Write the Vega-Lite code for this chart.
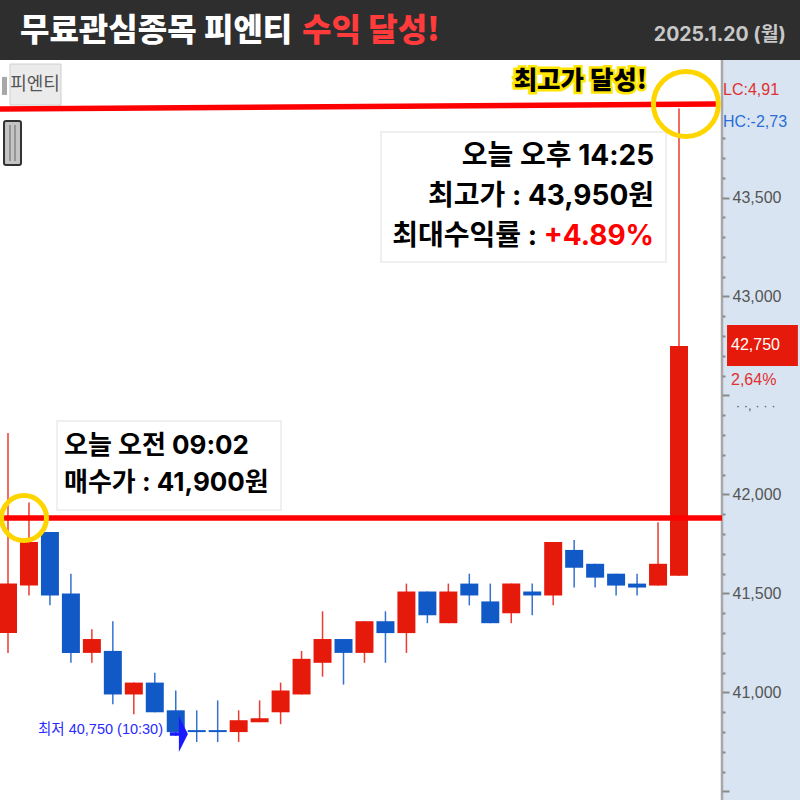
{"$schema":"https://vega.github.io/schema/vega-lite/v6.json","width":800,"height":800,"padding":0,"autosize":"none","background":"#ffffff","config":{"view":{"stroke":null},"axisX":{"disable":true}},"resolve":{"axis":{"y":"independent"}},
"datasets":{"candles":[
{"i":0,"dir":"up","open":41300,"high":42310,"low":41200,"close":41550},
{"i":1,"dir":"up","open":41540,"high":41960,"low":41490,"close":41760},
{"i":2,"dir":"down","open":41810,"high":41810,"low":41440,"close":41490},
{"i":3,"dir":"down","open":41500,"high":41600,"low":41150,"close":41200},
{"i":4,"dir":"up","open":41200,"high":41320,"low":41150,"close":41270},
{"i":5,"dir":"down","open":41210,"high":41360,"low":40940,"close":40990},
{"i":6,"dir":"up","open":40990,"high":41050,"low":40890,"close":41050},
{"i":7,"dir":"down","open":41050,"high":41100,"low":40900,"close":40900},
{"i":8,"dir":"down","open":40910,"high":41010,"low":40780,"close":40800},
{"i":9,"dir":"down","open":40810,"high":40910,"low":40750,"close":40800},
{"i":10,"dir":"down","open":40810,"high":40960,"low":40750,"close":40800},
{"i":11,"dir":"up","open":40800,"high":40910,"low":40750,"close":40860},
{"i":12,"dir":"up","open":40850,"high":40960,"low":40850,"close":40870},
{"i":13,"dir":"up","open":40900,"high":41050,"low":40840,"close":41010},
{"i":14,"dir":"up","open":40990,"high":41210,"low":40990,"close":41170},
{"i":15,"dir":"up","open":41150,"high":41410,"low":41080,"close":41270},
{"i":16,"dir":"down","open":41270,"high":41270,"low":41040,"close":41200},
{"i":17,"dir":"up","open":41200,"high":41360,"low":41150,"close":41360},
{"i":18,"dir":"down","open":41360,"high":41410,"low":41150,"close":41300},
{"i":19,"dir":"up","open":41300,"high":41550,"low":41200,"close":41510},
{"i":20,"dir":"down","open":41510,"high":41510,"low":41350,"close":41390},
{"i":21,"dir":"up","open":41350,"high":41550,"low":41350,"close":41510},
{"i":22,"dir":"down","open":41550,"high":41600,"low":41440,"close":41490},
{"i":23,"dir":"down","open":41460,"high":41550,"low":41350,"close":41350},
{"i":24,"dir":"up","open":41400,"high":41550,"low":41350,"close":41550},
{"i":25,"dir":"down","open":41510,"high":41550,"low":41390,"close":41490},
{"i":26,"dir":"up","open":41490,"high":41760,"low":41440,"close":41760},
{"i":27,"dir":"down","open":41720,"high":41770,"low":41530,"close":41630},
{"i":28,"dir":"down","open":41650,"high":41650,"low":41530,"close":41580},
{"i":29,"dir":"down","open":41600,"high":41600,"low":41490,"close":41540},
{"i":30,"dir":"down","open":41550,"high":41600,"low":41490,"close":41530},
{"i":31,"dir":"up","open":41540,"high":41860,"low":41540,"close":41650},
{"i":32,"dir":"up","open":41590,"high":43950,"low":41590,"close":42750}
]},
"layer":[
{"data":{"values":[{"a":1}]},"mark":{"type":"rect","color":"#d8e4f1"},"encoding":{"x":{"datum":34.05,"scale":{"domain":[-0.3815,37.77],"padding":0}},"x2":{"datum":37.77},"y":{"datum":44194,"scale":{"domain":[40457,44497.5]},"axis":{"orient":"right","offset":-78,"domain":false,"grid":false,"title":null,"zindex":1,"values":[40500,40600,40700,40800,40900,41000,41100,41200,41300,41400,41500,41600,41700,41800,41900,42000,42100,42200,42300,42400,42500,42600,42700,42800,42900,43000,43100,43200,43300,43400,43500,43600,43700,43800],"labelExpr":"datum.value % 500 == 0 && datum.value != 42500 && datum.value != 40500 ? format(datum.value, ',') : ''","labelOverlap":false,"labelBound":false,"labelFlush":false,"tickColor":"#8a8a8a","tickWidth":2,"tickSize":{"condition":{"test":"datum.value % 500 == 0","value":7},"value":3},"labelFont":"Liberation Sans","labelFontSize":16,"labelColor":"#555555","labelPadding":3}},"y2":{"datum":40457}}},
{"data":{"name":"candles"},"mark":{"type":"rule","strokeWidth":1.5,"opacity":0.85},"encoding":{"x":{"field":"i","type":"quantitative","scale":{"domain":[-0.3815,37.77],"padding":0}},"y":{"field":"low","type":"quantitative","scale":{"domain":[40457,44497.5]},"axis":null},"y2":{"field":"high"},"color":{"field":"dir","type":"nominal","scale":{"domain":["up","down"],"range":["#e61a0a","#1259c8"]},"legend":null}}},
{"data":{"name":"candles"},"mark":{"type":"bar","size":18,"orient":"vertical"},"encoding":{"x":{"field":"i","type":"quantitative","scale":{"domain":[-0.3815,37.77],"padding":0}},"y":{"field":"open","type":"quantitative","scale":{"domain":[40457,44497.5]},"axis":null},"y2":{"field":"close"},"color":{"field":"dir","type":"nominal","scale":{"domain":["up","down"],"range":["#e61a0a","#1259c8"]},"legend":null}}},
{"data":{"values":[{"a":1}]},"mark":{"type":"rule","color":"#a8a8a8","strokeWidth":2.5},"encoding":{"x":{"datum":34.05,"scale":{"domain":[-0.3815,37.77],"padding":0}},"y":{"datum":44194,"scale":{"domain":[40457,44497.5]},"axis":null},"y2":{"datum":40457}}},
{"data":{"values":[{"a":1}]},"mark":{"type":"rect","color":"#ffffff","stroke":"#efefef","strokeWidth":2},"encoding":{"x":{"datum":17.79,"scale":{"domain":[-0.3815,37.77],"padding":0}},"x2":{"datum":31.38},"y":{"datum":43831,"scale":{"domain":[40457,44497.5]},"axis":null},"y2":{"datum":43174}}},
{"data":{"values":[{"a":1}]},"mark":{"type":"rect","color":"#ffffff","stroke":"#efefef","strokeWidth":2},"encoding":{"x":{"datum":2.34,"scale":{"domain":[-0.3815,37.77],"padding":0}},"x2":{"datum":13.02},"y":{"datum":42371,"scale":{"domain":[40457,44497.5]},"axis":null},"y2":{"datum":41922}}},
{"data":{"values":[{"a":1}]},"mark":{"type":"rect","color":"#ebebeb","stroke":"#cfcfcf","strokeWidth":1},"encoding":{"x":{"datum":0.095,"scale":{"domain":[-0.3815,37.77],"padding":0}},"x2":{"datum":2.527},"y":{"datum":44174,"scale":{"domain":[40457,44497.5]},"axis":null},"y2":{"datum":43967}}},
{"data":{"values":[{"a":1}]},"mark":{"type":"rect","color":"#a8a8a8"},"encoding":{"x":{"datum":-0.286,"scale":{"domain":[-0.3815,37.77],"padding":0}},"x2":{"datum":-0.048},"y":{"datum":44109,"scale":{"domain":[40457,44497.5]},"axis":null},"y2":{"datum":44018}}},
{"data":{"values":[{"a":1}]},"mark":{"type":"rect","color":"#c4c4c4","stroke":"#333333","strokeWidth":2,"cornerRadius":2},"encoding":{"x":{"datum":-0.19,"scale":{"domain":[-0.3815,37.77],"padding":0}},"x2":{"datum":0.62},"y":{"datum":43886,"scale":{"domain":[40457,44497.5]},"axis":null},"y2":{"datum":43664}}},
{"data":{"values":[{"a":1}]},"mark":{"type":"rule","color":"#666666","strokeWidth":1},"encoding":{"x":{"datum":0.095,"scale":{"domain":[-0.3815,37.77],"padding":0}},"y":{"datum":43866,"scale":{"domain":[40457,44497.5]},"axis":null},"y2":{"datum":43684}}},
{"data":{"values":[{"a":1}]},"mark":{"type":"rule","color":"#666666","strokeWidth":1},"encoding":{"x":{"datum":0.334,"scale":{"domain":[-0.3815,37.77],"padding":0}},"y":{"datum":43866,"scale":{"domain":[40457,44497.5]},"axis":null},"y2":{"datum":43684}}},
{"data":{"values":[{"t":"피엔티"}]},"mark":{"type":"text","align":"center","baseline":"middle","font":"Noto Sans CJK KR","fontSize":18,"color":"#555555"},"encoding":{"x":{"datum":1.288,"scale":{"domain":[-0.3815,37.77],"padding":0}},"y":{"datum":44068,"scale":{"domain":[40457,44497.5]},"axis":null},"text":{"field":"t"}}},
{"data":{"values":[{"x":-0.3815,"price":41881},{"x":34.05,"price":41881}]},"mark":{"type":"line","color":"#ff0000","strokeWidth":5.5},"encoding":{"x":{"field":"x","type":"quantitative","scale":{"domain":[-0.3815,37.77],"padding":0}},"y":{"field":"price","type":"quantitative","scale":{"domain":[40457,44497.5]},"axis":null}}},
{"data":{"values":[{"x":-0.3815,"price":43947},{"x":33.76,"price":43972}]},"mark":{"type":"line","color":"#ff0000","strokeWidth":5.5},"encoding":{"x":{"field":"x","type":"quantitative","scale":{"domain":[-0.3815,37.77],"padding":0}},"y":{"field":"price","type":"quantitative","scale":{"domain":[40457,44497.5]},"axis":null}}},
{"data":{"values":[{"a":1}]},"mark":{"type":"point","filled":false,"color":"#ffd500","strokeWidth":5,"size":4225,"opacity":1},"encoding":{"x":{"datum":32.33,"scale":{"domain":[-0.3815,37.77],"padding":0}},"y":{"datum":43972,"scale":{"domain":[40457,44497.5]},"axis":null}}},
{"data":{"values":[{"a":1}]},"mark":{"type":"point","filled":false,"color":"#ffd500","strokeWidth":5,"size":2025,"opacity":1},"encoding":{"x":{"datum":0.763,"scale":{"domain":[-0.3815,37.77],"padding":0}},"y":{"datum":41881,"scale":{"domain":[40457,44497.5]},"axis":null}}},
{"data":{"values":[{"a":1}]},"mark":{"type":"rect","color":"#2e2e2e"},"encoding":{"x":{"datum":-0.3815,"scale":{"domain":[-0.3815,37.77],"padding":0}},"x2":{"datum":37.77},"y":{"datum":44497.5,"scale":{"domain":[40457,44497.5]},"axis":null},"y2":{"datum":44194}}},
{"data":{"values":[{"a":1}]},"mark":{"type":"rect","color":"#e61a0a"},"encoding":{"x":{"datum":34.29,"scale":{"domain":[-0.3815,37.77],"padding":0}},"x2":{"datum":37.67},"y":{"datum":42856,"scale":{"domain":[40457,44497.5]},"axis":null},"y2":{"datum":42649}}},
{"data":{"values":[{"t":"무료관심종목 피엔티"}]},"mark":{"type":"text","align":"left","baseline":"middle","font":"Noto Sans CJK KR","fontSize":32,"fontWeight":900,"color":"#ffffff"},"encoding":{"x":{"datum":0.572,"scale":{"domain":[-0.3815,37.77],"padding":0}},"y":{"datum":44341,"scale":{"domain":[40457,44497.5]},"axis":null},"text":{"field":"t"}}},
{"data":{"values":[{"t":"수익 달성!"}]},"mark":{"type":"text","align":"left","baseline":"middle","font":"Noto Sans CJK KR","fontSize":32,"fontWeight":900,"color":"#ff3b3b"},"encoding":{"x":{"datum":14.02,"scale":{"domain":[-0.3815,37.77],"padding":0}},"y":{"datum":44341,"scale":{"domain":[40457,44497.5]},"axis":null},"text":{"field":"t"}}},
{"data":{"values":[{"t":"2025.1.20 (월)"}]},"mark":{"type":"text","align":"right","baseline":"middle","font":"Inter, Noto Sans CJK KR","fontSize":19.5,"fontWeight":700,"color":"#c8c8c8"},"encoding":{"x":{"datum":37.1,"scale":{"domain":[-0.3815,37.77],"padding":0}},"y":{"datum":44321,"scale":{"domain":[40457,44497.5]},"axis":null},"text":{"field":"t"}}},
{"data":{"values":[{"t":"최고가 달성!"}]},"mark":{"type":"text","align":"right","baseline":"middle","font":"Noto Sans CJK KR","fontSize":25.5,"fontWeight":900,"color":"#ffe600","stroke":"#ffe600","strokeWidth":5},"encoding":{"x":{"datum":30.47,"scale":{"domain":[-0.3815,37.77],"padding":0}},"y":{"datum":44088,"scale":{"domain":[40457,44497.5]},"axis":null},"text":{"field":"t"}}},
{"data":{"values":[{"t":"최고가 달성!"}]},"mark":{"type":"text","align":"right","baseline":"middle","font":"Noto Sans CJK KR","fontSize":25.5,"fontWeight":900,"color":"#000000"},"encoding":{"x":{"datum":30.47,"scale":{"domain":[-0.3815,37.77],"padding":0}},"y":{"datum":44088,"scale":{"domain":[40457,44497.5]},"axis":null},"text":{"field":"t"}}},
{"data":{"values":[{"t":"오늘 오후 14:25"}]},"mark":{"type":"text","align":"right","baseline":"middle","font":"Inter, Noto Sans CJK KR","fontSize":28,"fontWeight":700,"color":"#000000"},"encoding":{"x":{"datum":30.81,"scale":{"domain":[-0.3815,37.77],"padding":0}},"y":{"datum":43705,"scale":{"domain":[40457,44497.5]},"axis":null},"text":{"field":"t"}}},
{"data":{"values":[{"t":"최고가 : 43,950원"}]},"mark":{"type":"text","align":"right","baseline":"middle","font":"Inter, Noto Sans CJK KR","fontSize":28,"fontWeight":700,"color":"#000000"},"encoding":{"x":{"datum":30.81,"scale":{"domain":[-0.3815,37.77],"padding":0}},"y":{"datum":43502,"scale":{"domain":[40457,44497.5]},"axis":null},"text":{"field":"t"}}},
{"data":{"values":[{"t":"최대수익률 :"}]},"mark":{"type":"text","align":"right","baseline":"middle","font":"Inter, Noto Sans CJK KR","fontSize":28,"fontWeight":700,"color":"#000000"},"encoding":{"x":{"datum":25.23,"scale":{"domain":[-0.3815,37.77],"padding":0}},"y":{"datum":43300,"scale":{"domain":[40457,44497.5]},"axis":null},"text":{"field":"t"}}},
{"data":{"values":[{"t":"+4.89%"}]},"mark":{"type":"text","align":"right","baseline":"middle","font":"Inter, Noto Sans CJK KR","fontSize":28,"fontWeight":700,"color":"#ff0000"},"encoding":{"x":{"datum":30.81,"scale":{"domain":[-0.3815,37.77],"padding":0}},"y":{"datum":43300,"scale":{"domain":[40457,44497.5]},"axis":null},"text":{"field":"t"}}},
{"data":{"values":[{"t":"오늘 오전 09:02"}]},"mark":{"type":"text","align":"left","baseline":"middle","font":"Inter, Noto Sans CJK KR","fontSize":26,"fontWeight":700,"color":"#000000"},"encoding":{"x":{"datum":2.67,"scale":{"domain":[-0.3815,37.77],"padding":0}},"y":{"datum":42245,"scale":{"domain":[40457,44497.5]},"axis":null},"text":{"field":"t"}}},
{"data":{"values":[{"t":"매수가 : 41,900원"}]},"mark":{"type":"text","align":"left","baseline":"middle","font":"Inter, Noto Sans CJK KR","fontSize":26,"fontWeight":700,"color":"#000000"},"encoding":{"x":{"datum":2.67,"scale":{"domain":[-0.3815,37.77],"padding":0}},"y":{"datum":42058,"scale":{"domain":[40457,44497.5]},"axis":null},"text":{"field":"t"}}},
{"data":{"values":[{"t":"최저 40,750 (10:30)"}]},"mark":{"type":"text","align":"left","baseline":"middle","font":"Liberation Sans, Noto Sans CJK KR","fontSize":14.5,"color":"#2a2aff"},"encoding":{"x":{"datum":1.43,"scale":{"domain":[-0.3815,37.77],"padding":0}},"y":{"datum":40811,"scale":{"domain":[40457,44497.5]},"axis":null},"text":{"field":"t"}}},
{"data":{"values":[{"a":1}]},"mark":{"type":"point","filled":true,"color":"#1a1aff","opacity":1,"size":1296,"shape":"M-0.5,-0.1L0,-0.1L0,-1L0.5,0L0,1L0,0.1L-0.5,0.1Z"},"encoding":{"x":{"datum":8.15,"scale":{"domain":[-0.3815,37.77],"padding":0}},"y":{"datum":40790,"scale":{"domain":[40457,44497.5]},"axis":null}}},
{"data":{"values":[{"t":"LC:4,91"}]},"mark":{"type":"text","align":"left","baseline":"middle","font":"Liberation Sans","fontSize":16,"color":"#e03030"},"encoding":{"x":{"datum":34.1,"scale":{"domain":[-0.3815,37.77],"padding":0}},"y":{"datum":44043,"scale":{"domain":[40457,44497.5]},"axis":null},"text":{"field":"t"}}},
{"data":{"values":[{"t":"HC:-2,73"}]},"mark":{"type":"text","align":"left","baseline":"middle","font":"Liberation Sans","fontSize":16,"color":"#2a6ed6"},"encoding":{"x":{"datum":34.1,"scale":{"domain":[-0.3815,37.77],"padding":0}},"y":{"datum":43881,"scale":{"domain":[40457,44497.5]},"axis":null},"text":{"field":"t"}}},
{"data":{"values":[{"t":"42,750"}]},"mark":{"type":"text","align":"left","baseline":"middle","font":"Liberation Sans","fontSize":16,"color":"#ffffff"},"encoding":{"x":{"datum":34.48,"scale":{"domain":[-0.3815,37.77],"padding":0}},"y":{"datum":42755,"scale":{"domain":[40457,44497.5]},"axis":null},"text":{"field":"t"}}},
{"data":{"values":[{"t":"2,64%"}]},"mark":{"type":"text","align":"left","baseline":"middle","font":"Liberation Sans","fontSize":16,"color":"#e03030"},"encoding":{"x":{"datum":34.48,"scale":{"domain":[-0.3815,37.77],"padding":0}},"y":{"datum":42578,"scale":{"domain":[40457,44497.5]},"axis":null},"text":{"field":"t"}}},
{"data":{"values":[{"t":"· ·, · · ·"}]},"mark":{"type":"text","align":"left","baseline":"middle","font":"Liberation Sans","fontSize":13,"color":"#555555"},"encoding":{"x":{"datum":34.71,"scale":{"domain":[-0.3815,37.77],"padding":0}},"y":{"datum":42447,"scale":{"domain":[40457,44497.5]},"axis":null},"text":{"field":"t"}}}
]}
